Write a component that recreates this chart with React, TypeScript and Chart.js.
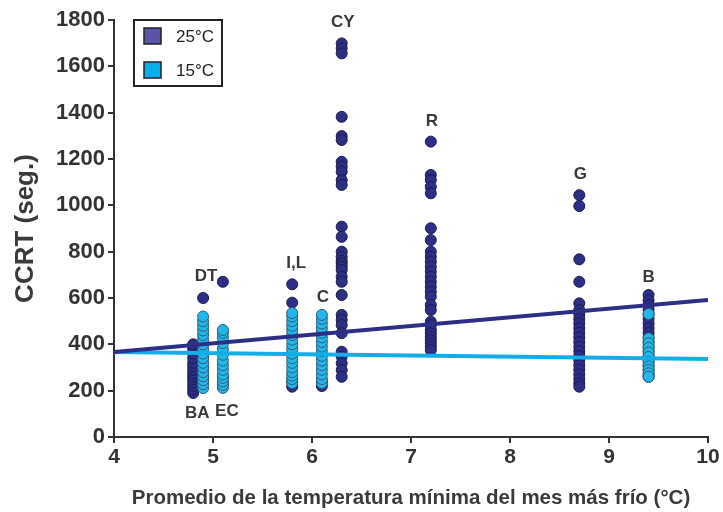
import React, { useEffect, useRef } from 'react';
import { Chart, registerables } from 'chart.js';

Chart.register(...registerables);

// ---- data ----
const sites = ['BA', 'DT', 'EC', 'I,L', 'C', 'CY', 'R', 'G', 'B'];
const siteX = [4.8, 4.9, 5.1, 5.8, 6.1, 6.3, 7.2, 8.7, 9.4];

// CCRT (seg.) at 25°C, per site
const ccrt25: number[][] = [
  [190, 205, 220, 235, 250, 262, 275, 290, 305, 320, 340, 360, 380, 400],
  [600, 260, 300, 350, 400],
  [670, 230, 260],
  [217, 240, 580, 659],
  [220, 240],
  [1699, 1678, 1656, 1382, 1299, 1282, 1188, 1167, 1145, 1109, 1088, 908, 864, 800, 778, 760, 749, 735, 721, 692, 670, 613, 527, 505, 483, 448, 368, 347, 318, 289, 260],
  [1275, 1131, 1109, 1080, 1052, 901, 850, 800, 778, 757, 735, 714, 692, 670, 649, 627, 606, 570, 548, 498, 483, 462, 448, 433, 418, 404, 390, 375],
  [1044, 997, 767, 670, 577, 548, 530, 510, 490, 470, 450, 430, 410, 390, 370, 350, 330, 310, 290, 270, 250, 232, 217],
  [613, 590, 570, 550, 530, 510, 490, 470, 450, 430, 410, 390, 370, 350, 330, 310, 290, 270, 260],
];

// CCRT (seg.) at 15°C, per site
const ccrt15: number[][] = [
  [],
  [211, 228, 245, 262, 280, 300, 320, 340, 360, 380, 400, 420, 440, 460, 480, 500, 520],
  [212, 225, 240, 255, 270, 290, 310, 330, 355, 380, 405, 430, 450, 462],
  [233, 250, 265, 280, 300, 320, 340, 360, 380, 400, 420, 440, 460, 480, 500, 520, 535],
  [233, 250, 270, 290, 310, 330, 350, 370, 390, 410, 430, 450, 470, 490, 510, 527],
  [],
  [],
  [],
  [531, 426, 405, 385, 365, 345, 325, 305, 290, 275, 260],
];

const siteLabelX = [4.84, 4.93, 5.14, 5.84, 6.11, 6.31, 7.21, 8.71, 9.4];
const siteLabelY = [101, 693, 112, 751, 602, 1792, 1364, 1135, 688];

const trendX = [4, 10];
const trend25 = [367, 591];
const trend15 = [367, 337];

const seriesNames = ['25°C', '15°C'];
const xTitle = 'Promedio de la temperatura mínima del mes más frío (°C)';
const yTitle = 'CCRT (seg.)';
const xMin = 4, xMax = 10, xStep = 1;
const yMin = 0, yMax = 1800, yStep = 200;

// ---- styles ----
const FONT = '"Liberation Sans", Arial, Helvetica, sans-serif';
const DARK = '#2d2f86';
const DARK_BORDER = '#1c1c4e';
const CYAN = '#22b6ea';
const CYAN_BORDER = '#2f5d74';
const LEG_DARK = '#5b54a6';
const LEG_CYAN = '#08adec';
const AXIS = '#333333';

function toPoints(values: number[][]) {
  const pts: { x: number; y: number }[] = [];
  values.forEach((arr, i) => arr.forEach((v) => pts.push({ x: siteX[i], y: v })));
  return pts;
}

const annotatePlugin = {
  id: 'annotate',
  afterDraw(chart: any) {
    const { ctx, scales, chartArea } = chart;
    const xs = scales.x;
    const ys = scales.y;
    ctx.save();
    // site labels
    ctx.font = `bold 17px ${FONT}`;
    ctx.fillStyle = '#3a3a3a';
    ctx.textAlign = 'center';
    ctx.textBaseline = 'middle';
    sites.forEach((s, i) => {
      ctx.fillText(s, xs.getPixelForValue(siteLabelX[i]), ys.getPixelForValue(siteLabelY[i]));
    });
    // legend
    const bx = chartArea.left + 20;
    const by = chartArea.top;
    ctx.lineWidth = 2;
    ctx.strokeStyle = '#222';
    ctx.strokeRect(bx, by, 88, 66);
    const fills = [LEG_DARK, LEG_CYAN];
    ctx.font = `17px ${FONT}`;
    ctx.textAlign = 'left';
    fills.forEach((c, i) => {
      const sy = by + 8 + i * 34;
      ctx.fillStyle = c;
      ctx.fillRect(bx + 10, sy, 17, 16);
      ctx.lineWidth = 1.5;
      ctx.strokeStyle = '#222';
      ctx.strokeRect(bx + 10, sy, 17, 16);
      ctx.fillStyle = '#222';
      ctx.fillText(seriesNames[i], bx + 42, sy + 9);
    });
    ctx.restore();
  },
};

export default function App() {
  const ref = useRef<HTMLCanvasElement>(null);
  useEffect(() => {
    if (!ref.current) return;
    const chart = new Chart(ref.current, {
      type: 'scatter',
      data: {
        datasets: [
          {
            label: seriesNames[0] + ' trend',
            data: trendX.map((x, i) => ({ x, y: trend25[i] })),
            showLine: true,
            borderColor: DARK,
            borderWidth: 4,
            pointRadius: 0,
            order: 0,
          },
          {
            label: seriesNames[1] + ' trend',
            data: trendX.map((x, i) => ({ x, y: trend15[i] })),
            showLine: true,
            borderColor: '#13aee8',
            borderWidth: 4,
            pointRadius: 0,
            order: 0,
          },
          {
            label: seriesNames[1],
            data: toPoints(ccrt15),
            backgroundColor: CYAN,
            borderColor: CYAN_BORDER,
            borderWidth: 1,
            pointRadius: 5.5,
            order: 1,
          },
          {
            label: seriesNames[0],
            data: toPoints(ccrt25),
            backgroundColor: DARK,
            borderColor: DARK_BORDER,
            borderWidth: 1,
            pointRadius: 5.5,
            order: 2,
          },
        ],
      },
      options: {
        responsive: false,
        animation: false,
        layout: { padding: { top: 20, right: 15, left: 0, bottom: 0 } },
        plugins: { legend: { display: false }, tooltip: { enabled: false } },
        scales: {
          x: {
            type: 'linear',
            min: xMin,
            max: xMax,
            afterFit: (s: any) => { s.height = 75; },
            ticks: {
              stepSize: xStep,
              color: AXIS,
              font: { family: FONT, size: 21, weight: 'bold' },
              padding: 2,
              callback: (v: any) => String(v),
            },
            grid: { drawOnChartArea: false, drawTicks: true, tickLength: 6, color: AXIS, lineWidth: 2 },
            border: { display: true, color: AXIS, width: 2 },
            title: {
              display: true,
              text: xTitle,
              color: '#3a3a3a',
              font: { family: FONT, size: 20.5, weight: 'bold' },
              padding: { top: 4, bottom: 1 },
            },
          },
          y: {
            type: 'linear',
            min: yMin,
            max: yMax,
            afterFit: (s: any) => { s.width = 114; },
            ticks: {
              stepSize: yStep,
              color: AXIS,
              font: { family: FONT, size: 22, weight: 'bold' },
              padding: 3,
              callback: (v: any) => String(v),
            },
            grid: { drawOnChartArea: false, drawTicks: true, tickLength: 6, color: AXIS, lineWidth: 2 },
            border: { display: true, color: AXIS, width: 2 },
            title: {
              display: true,
              text: yTitle,
              color: '#3a3a3a',
              font: { family: FONT, size: 26, weight: 'bold' },
              padding: { top: 10, bottom: 0 },
            },
          },
        },
      },
      plugins: [annotatePlugin],
    } as any);
    return () => chart.destroy();
  }, []);
  return (
    <div style={{ position: 'absolute', left: 0, top: 0, width: 723, height: 512, background: '#fff' }}>
      <canvas ref={ref} width={723} height={512} style={{ width: 723, height: 512 }} />
    </div>
  );
}
